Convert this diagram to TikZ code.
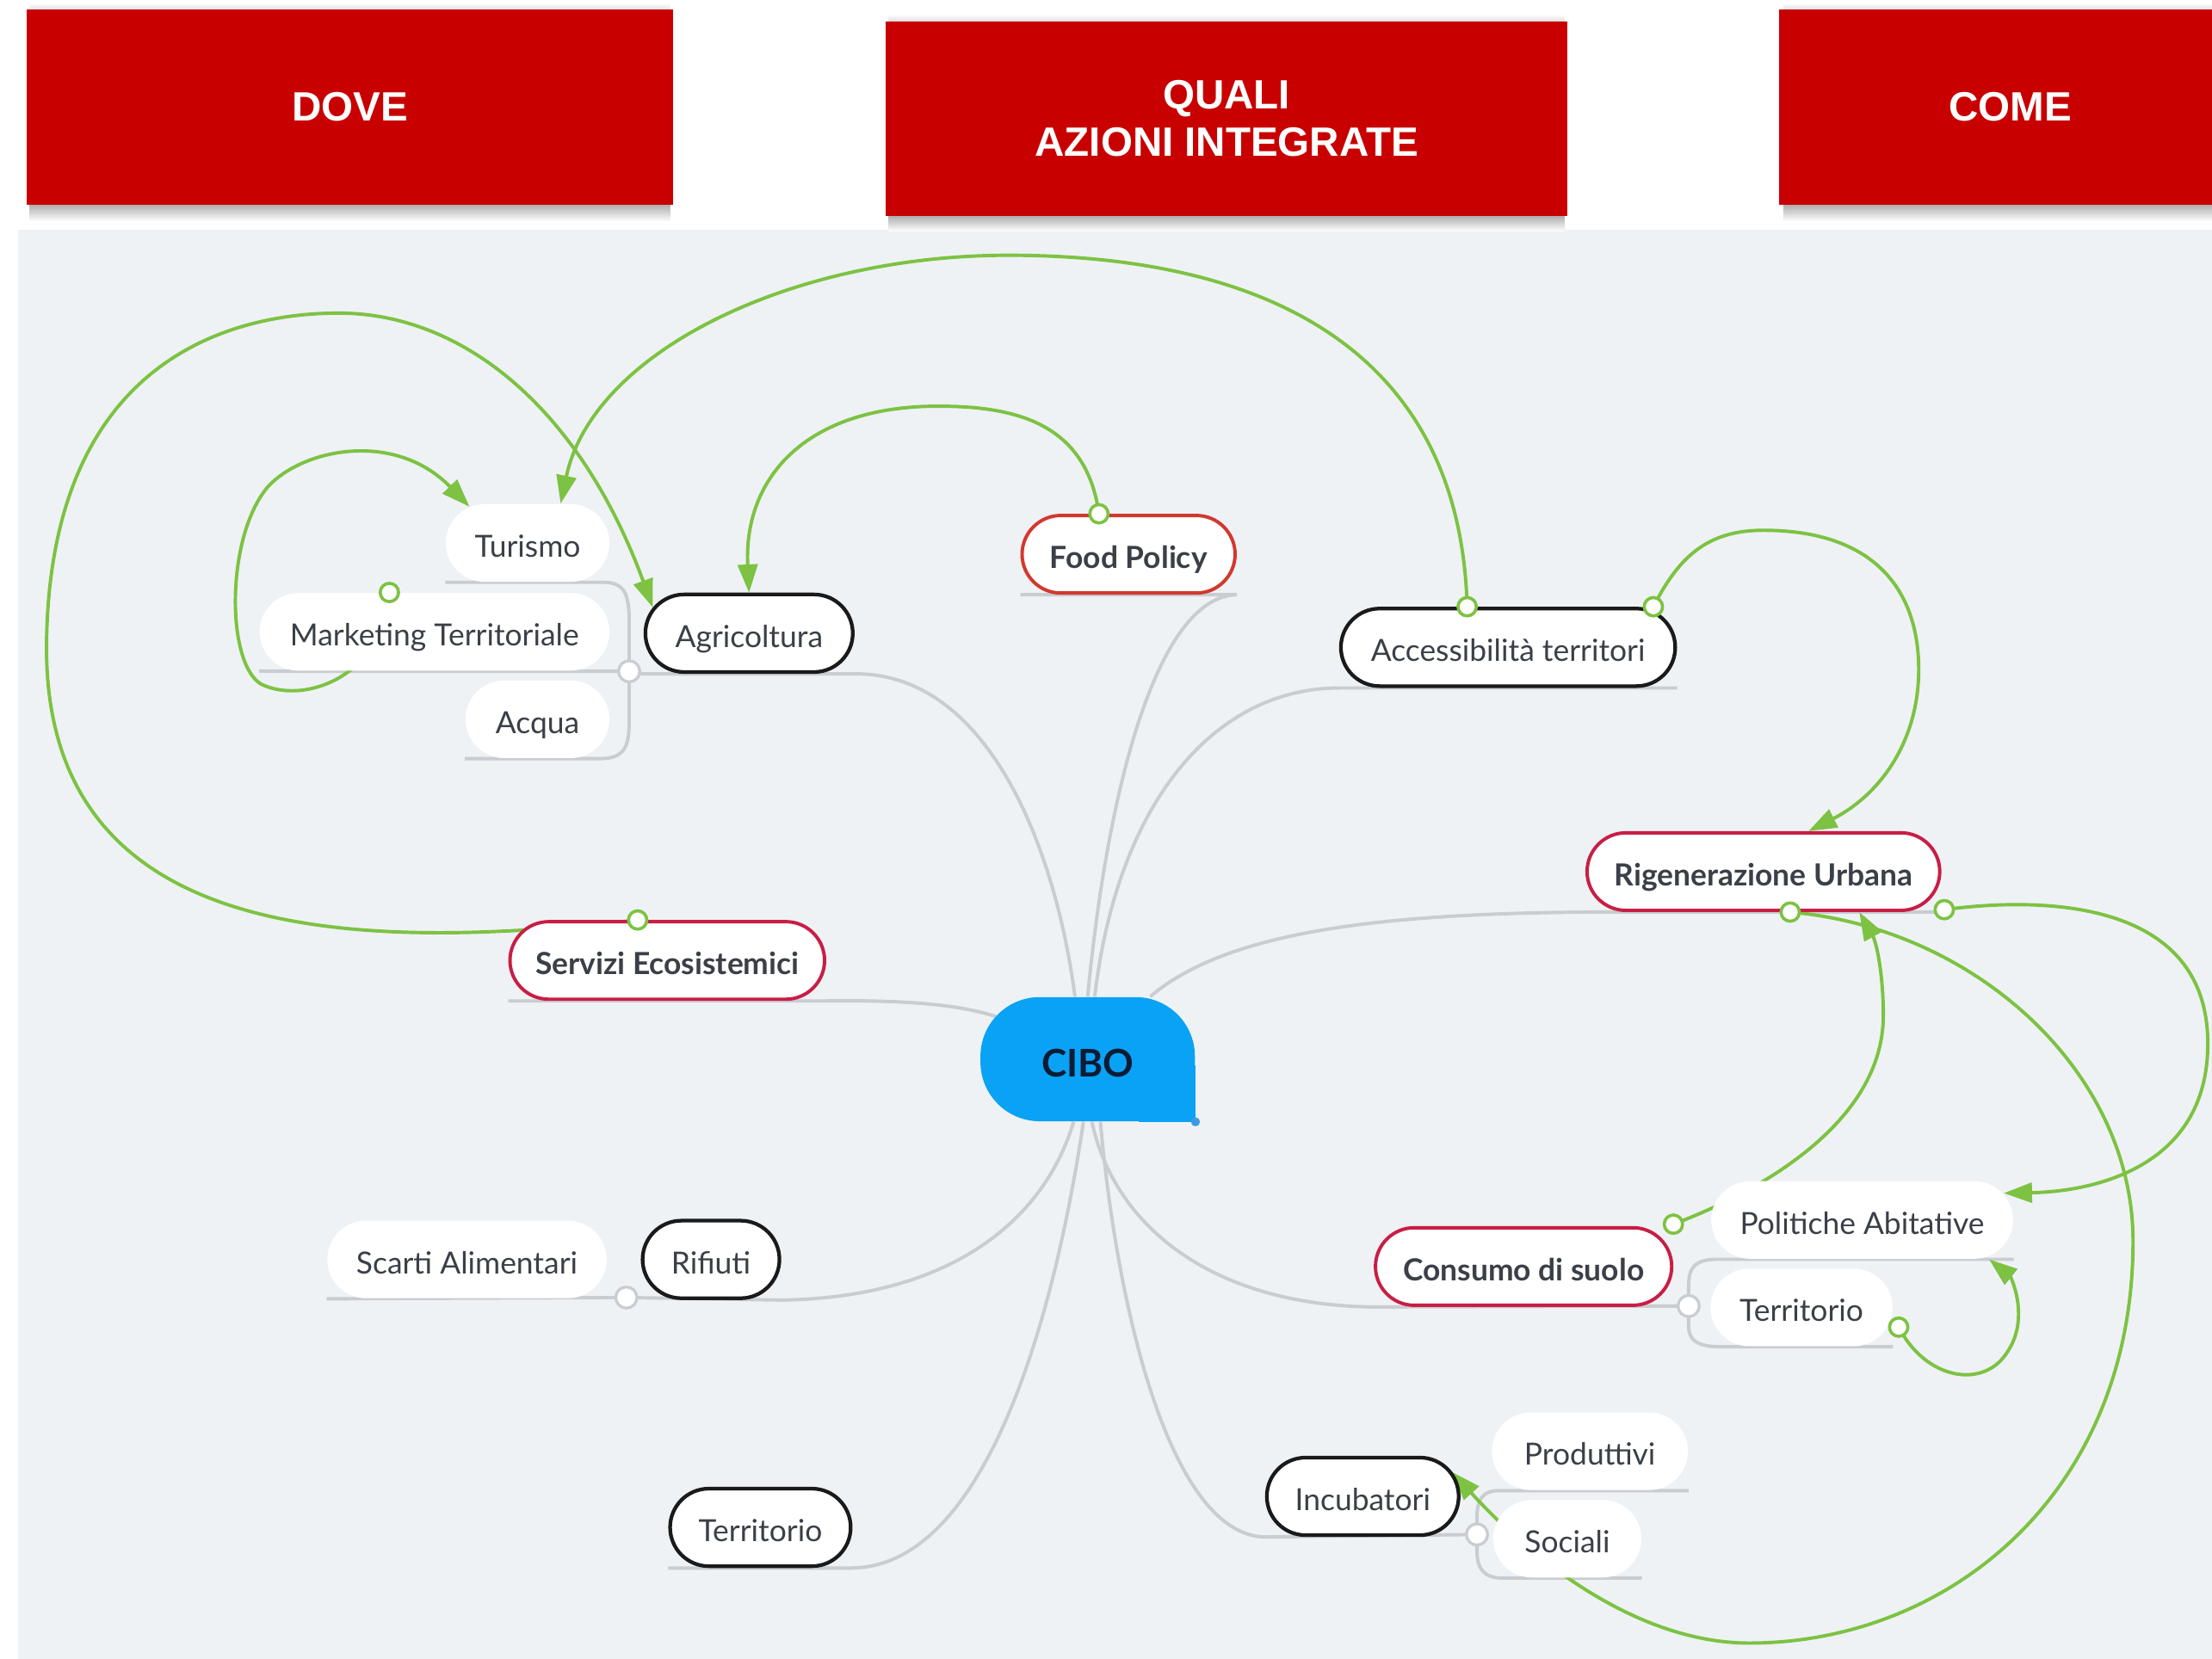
\documentclass[tikz,border=0pt]{standalone}
\usepackage{fontspec}
\setmainfont{Lato}
\newfontfamily\hdrfont{Liberation Sans}
\usetikzlibrary{shapes.misc,arrows.meta,calc}
\pgfdeclarelayer{bg}
\pgfdeclarelayer{lines}
\pgfsetlayers{bg,lines,main}
\definecolor{hdrred}{HTML}{C80000}
\definecolor{panel}{HTML}{EEF2F5}
\definecolor{grn}{HTML}{7DC242}
\definecolor{gline}{HTML}{C9CDD2}
\definecolor{txt}{HTML}{3B3F47}
\definecolor{kline}{HTML}{1A1A1A}
\definecolor{crim}{HTML}{C81E45}
\definecolor{fpred}{HTML}{D2382E}
\definecolor{cibofill}{HTML}{0AA2F4}
\definecolor{cibodot}{HTML}{3C9BE0}
\definecolor{cibotxt}{HTML}{0D1B33}
\begin{document}
\begin{tikzpicture}[x=0.5pt,y=-0.5pt,
  hdr/.style={fill=hdrred, text=white, font=\hdrfont\bfseries\fontsize{14.5}{17}\selectfont, align=center, inner sep=0pt},
  hshadow/.style={top color=black!32, bottom color=white, draw=none},
  pill/.style={rounded rectangle, minimum height=27.5pt, inner xsep=0pt, inner ysep=0pt, text height=10pt, text depth=0pt, text=txt, font=\fontsize{10.8}{13}\selectfont},
  wnode/.style={pill, fill=white},
  knode/.style={pill, fill=white, draw=kline, line width=1.3pt},
  cnode/.style={pill, fill=white, draw=crim, line width=1.2pt, font=\bfseries\fontsize{10.8}{13}\selectfont},
  fnode/.style={cnode, draw=fpred},
  br/.style={draw=gline, line width=1.2pt},
  knob/.style={circle, draw=gline, fill=white, line width=1pt, minimum size=7.5pt, inner sep=0pt},
  rel/.style={draw=grn, line width=1.2pt, -{Triangle[length=10pt,width=7pt]}},
  rels/.style={circle, draw=grn, fill=white, line width=1.1pt, minimum size=6.5pt, inner sep=0pt}
]
\useasboundingbox (0,0) rectangle (1568,1176);
\begin{pgfonlayer}{bg}
  \fill[white] (0,0) rectangle (1568,1176);
  \fill[panel] (13,163) rectangle (1568,1176);
  % soft header shadows
  \shade[hshadow] (21,145) rectangle (475,157);
  \shade[hshadow] (630,153) rectangle (1109,164);
  \shade[hshadow] (1264,145) rectangle (1568,157);
  \shade[top color=white, bottom color=black!12] (21,2) rectangle (475,7);
  \shade[top color=white, bottom color=black!12] (630,10) rectangle (1109,15);
  \shade[top color=white, bottom color=black!12] (1264,2) rectangle (1568,7);
\end{pgfonlayer}

% headers
\node[hdr, minimum width=229pt, minimum height=69pt] (dove) at (248,76) {DOVE};
\node[hdr, minimum width=241.5pt, minimum height=69pt] (quali) at (869.5,84) {QUALI\\AZIONI INTEGRATE};
\node[hdr, minimum width=164pt, minimum height=69pt] (come) at (1425,76) {COME};

% nodes
\node[wnode, minimum width=58pt] (turismo) at (374,385) {Turismo};
\node[wnode, minimum width=124pt] (mkt) at (308,448) {Marketing Territoriale};
\node[wnode, minimum width=51pt] (acqua) at (381,510) {Acqua};
\node[knode, minimum width=73.5pt] (agri) at (531,449) {Agricoltura};
\node[fnode, minimum width=75.5pt] (food) at (800,393) {Food Policy};
\node[knode, minimum width=118.5pt] (acc) at (1069,459) {Accessibilità territori};
\node[cnode, minimum width=125pt] (rig) at (1250,618) {Rigenerazione Urbana};
\node[cnode, minimum width=111.5pt] (serv) at (473,681) {Servizi Ecosistemici};
\node[wnode, minimum width=99pt] (scarti) at (331,893) {Scarti Alimentari};
\node[knode, minimum width=48.5pt] (rif) at (504,893) {Rifiuti};
\node[cnode, minimum width=105pt] (cons) at (1080,898) {Consumo di suolo};
\node[wnode, minimum width=107pt] (pol) at (1320,865) {Politiche Abitative};
\node[wnode, minimum width=64.5pt] (terr1) at (1277,927) {Territorio};
\node[knode, minimum width=64pt] (terr2) at (539,1083) {Territorio};
\node[knode, minimum width=68pt] (incub) at (966,1061) {Incubatori};
\node[wnode, minimum width=69.5pt] (prod) at (1127,1029) {Produttivi};
\node[wnode, minimum width=52.5pt] (soc) at (1111,1091) {Sociali};

% central node
\node[fill=cibofill, rounded corners=21pt, minimum width=76pt, minimum height=44pt, inner sep=0pt, text height=12.5pt, text depth=0pt, font=\bfseries\fontsize{13.5}{15}\selectfont, text=cibotxt] (cibo) at (771,751) {CIBO};
\fill[cibofill] ($(cibo.south east)+(-40,0)$) rectangle ($(cibo.south east)+(0,-40)$);
\fill[cibodot] (cibo.south east) circle (1.6pt);

% knobs
\node[knob] (k1) at (446,476) {};
\node[knob] (k2) at (444,920) {};
\node[knob] (k3) at (1197,926) {};
\node[knob] (k4) at (1047,1088) {};

% relationship start markers
\node[rels] (s1) at ($(serv.north)+(-21,0)$) {};
\node[rels] (s2) at ($(mkt.north)+(-32,0)$) {};
\node[rels] (s3) at ($(acc.north)+(-29,0)$) {};
\node[rels] (s4) at ($(food.north)+(-21,0)$) {};
\node[rels] (s5) at ($(acc.north)+(103,0)$) {};
\node[rels] (s6) at ($(cons.east)+(0,-30)$) {};
\node[rels] (s7) at ($(rig.east)+(2,27)$) {};
\node[rels] (s8) at ($(terr1.east)+(4,14)$) {};
\node[rels] (s9) at ($(rig.south)+(19,0)$) {};

\begin{pgfonlayer}{lines}
  % grey branches
  \draw[br] (k1.center) -- (agri.west|-agri.south) -- (agri.east|-agri.south) .. controls (700,477) and (748,600) .. ($(cibo.north)+(-9,0)$);
  \draw[br] (turismo.west|-turismo.south) -- ($(turismo.east|-turismo.south)+(-6,0)$) .. controls (442,412.5) and (446,420) .. (446,440) -- (k1.center);
  \draw[br] (acqua.west|-acqua.south) -- ($(acqua.east|-acqua.south)+(-6,0)$) .. controls (442,537.5) and (446,530) .. (446,512) -- (k1.center);
  \draw[br] (mkt.west|-mkt.south) -- (k1.center);
  \draw[br] (food.west|-food.south) -- (food.east|-food.south) .. controls (820,423) and (785,560) .. (cibo.north);
  \draw[br] (acc.east|-acc.south) -- (acc.west|-acc.south) .. controls (860,488) and (792,570) .. ($(cibo.north)+(5,0)$);
  \draw[br] (rig.east|-rig.south) -- (rig.west|-rig.south) .. controls (980,648) and (870,660) .. ($(cibo.north east)+(-32,0)$);
  \draw[br] (serv.west|-serv.south) -- (serv.east|-serv.south) .. controls (640,709) and (680,712) .. ($(cibo.west)+(12,-30)$);
  \draw[br] (scarti.west|-scarti.south) -- (k2.center) -- (rif.east|-rif.south) .. controls (680,920) and (742,860) .. ($(cibo.south)+(-10,0)$);
  \draw[br] (terr2.west|-terr2.south) -- (terr2.east|-terr2.south) .. controls (700,1110) and (748,930) .. ($(cibo.south)+(-3,0)$);
  \draw[br] (k3.center) -- (cons.west|-cons.south) .. controls (860,925.5) and (790,870) .. ($(cibo.south)+(3,0)$);
  \draw[br] (pol.east|-pol.south) -- ($(pol.west|-pol.south)+(6,0)$) .. controls (1200,892.5) and (1197,900) .. (1197,912) -- (k3.center);
  \draw[br] (terr1.east|-terr1.south) -- ($(terr1.west|-terr1.south)+(6,0)$) .. controls (1200,954.5) and (1197,948) .. (1197,940) -- (k3.center);
  \draw[br] (k4.center) -- (incub.west|-incub.south) .. controls (830,1088.5) and (792,930) .. ($(cibo.south)+(9,0)$);
  \draw[br] (prod.east|-prod.south) -- ($(prod.west|-prod.south)+(6,0)$) .. controls (1050,1056.5) and (1047,1065) .. (1047,1075) -- (k4.center);
  \draw[br] (soc.east|-soc.south) -- ($(soc.west|-soc.south)+(6,0)$) .. controls (1050,1118.5) and (1047,1110) .. (1047,1100) -- (k4.center);

  % green relationships
  \draw[rel] (s1.center) .. controls (250,675) and (30,670) .. (33,455) .. controls (36,250) and (170,222) .. (240,222) .. controls (330,222) and (412,292) .. (agri.165);
  \draw[rel] (s2.center) .. controls (272,480) and (215,500) .. (185,485) .. controls (160,470) and (160,380) .. (190,345) .. controls (215,318) and (280,305) .. (turismo.148);
  \draw[rel] (s3.center) .. controls (1035,250) and (900,181) .. (715,181) .. controls (560,181) and (420,250) .. (turismo.50);
  \draw[rel] (s4.center) .. controls (770,300) and (720,288) .. (665,288) .. controls (570,288) and (527,340) .. (agri.north);
  \draw[rel] (s5.center) .. controls (1190,395) and (1210,376) .. (1250,376) .. controls (1330,376) and (1362,420) .. (1360,480) .. controls (1358,530) and (1330,565) .. ($(rig.north)+(32,0)$);
  \draw[rel] (s6.center) .. controls (1260,840) and (1335,790) .. (1335,720) .. controls (1335,690) and (1330,668) .. ($(rig.south)+(68,0)$);
  \draw[rel] (s7.center) .. controls (1430,638) and (1565,630) .. (1565,740) .. controls (1565,830) and (1480,845) .. ($(pol.east)+(-7,-19)$);
  \draw[rel] (s8.center) .. controls (1365,978) and (1405,985) .. (1422,960) .. controls (1440,935) and (1425,905) .. ($(pol.south)+(90,0)$);
  \draw[rel] (s9.center) .. controls (1400,658) and (1512,760) .. (1512,880) .. controls (1512,1060) and (1380,1165) .. (1240,1165) .. controls (1160,1165) and (1085,1105) .. (incub.15);
\end{pgfonlayer}
\end{tikzpicture}
\end{document}
